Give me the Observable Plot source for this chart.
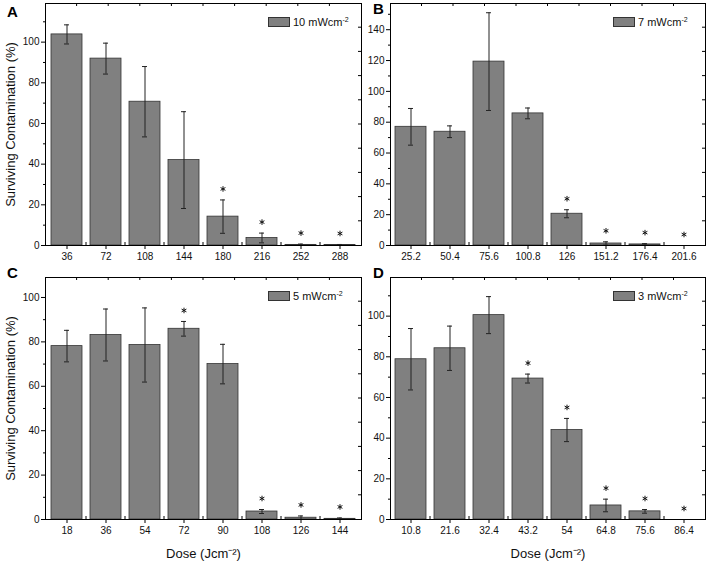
<!DOCTYPE html>
<html><head><meta charset="utf-8">
<script src="https://cdn.jsdelivr.net/npm/d3@7"></script>
<script src="https://cdn.jsdelivr.net/npm/@observablehq/plot@0.6"></script>
<style>
body{margin:0;background:#fff;}
#wrap{position:relative;width:709px;height:562px;font-family:"Liberation Sans",Arial,sans-serif;overflow:hidden;}
.panel{position:absolute;}
.lbl{position:absolute;font-weight:bold;font-size:15px;line-height:1;color:#000;}
.leg{position:absolute;font-size:11px;line-height:1;display:flex;align-items:center;white-space:nowrap;color:#111;}
.sw{display:inline-block;width:20px;height:8px;background:#808080;border:1px solid #333;margin-right:3px;}
.leg sup{font-size:7px;position:relative;top:-1px;vertical-align:top;}
</style></head><body><div id="wrap"></div>
<script>
// Panel A: 10 mW/cm2
const dosesA = [36, 72, 108, 144, 180, 216, 252, 288];
const valuesA = [103.8, 91.9, 70.7, 42.0, 14.2, 3.7, 0.3, 0.2];
const errorsA = [4.7, 7.6, 17.3, 23.8, 8.2, 2.4, 0.4, 0.3];
const sigA = [0, 0, 0, 0, 1, 1, 1, 1];
// Panel B: 7 mW/cm2
const dosesB = [25.2, 50.4, 75.6, 100.8, 126, 151.2, 176.4, 201.6];
const valuesB = [77.0, 73.8, 119.3, 85.7, 20.6, 1.3, 0.7, 0];
const errorsB = [11.9, 3.8, 31.7, 3.5, 2.6, 1.1, 0.5, 0];
const sigB = [0, 0, 0, 0, 1, 1, 1, 1];
// Panel C: 5 mW/cm2
const dosesC = [18, 36, 54, 72, 90, 108, 126, 144];
const valuesC = [78.1, 83.1, 78.6, 85.9, 70.0, 3.6, 0.8, 0.3];
const errorsC = [7.1, 11.7, 16.7, 3.3, 8.9, 0.9, 0.8, 0.4];
const sigC = [0, 0, 0, 1, 0, 1, 1, 1];
// Panel D: 3 mW/cm2
const dosesD = [10.8, 21.6, 32.4, 43.2, 54, 64.8, 75.6, 86.4];
const valuesD = [78.8, 84.2, 100.5, 69.3, 44.0, 6.9, 4.0, 0];
const errorsD = [15.1, 10.9, 9.1, 2.2, 5.7, 3.1, 0.9, 0];
const sigD = [0, 0, 0, 1, 1, 1, 1, 1];

const legendTexts = ["10", "7", "5", "3"];
const panelLetters = ["A", "B", "C", "D"];
const yTitle = "Surviving Contamination (%)";
const xTitle = "Dose (Jcm⁻²)";

const FONT = '"Liberation Sans", Arial, sans-serif';

function frameTicks(doses) {
  return (index, scales, values, dims) => {
    const {width, height, marginLeft: ml, marginRight: mr, marginTop: mt, marginBottom: mb} = dims;
    const x0 = ml, x1 = width - mr, y0 = mt, y1 = height - mb;
    const g = d3.create("svg:g").attr("stroke", "#000").attr("stroke-width", 1).attr("fill", "none");
    for (let k = 1; k < 10; k++) {
      const tx = x0 + (x1 - x0) * k / 10;
      g.append("line").attr("x1", tx).attr("x2", tx).attr("y1", y0).attr("y2", y0 + 3);
      const ty = y0 + (y1 - y0) * k / 10;
      g.append("line").attr("x1", x1).attr("x2", x1 - 3).attr("y1", ty).attr("y2", ty);
    }
    const xs = scales.x;
    const bw = typeof xs.bandwidth === "function" ? xs.bandwidth() : (xs.bandwidth || 0);
    const keys = doses.map(String);
    for (let i = 1; i < keys.length; i++) {
      const a = xs(keys[i - 1]), b = xs(keys[i]);
      if (!isFinite(a) || !isFinite(b)) continue;
      const xm = (a + b) / 2 + bw / 2;
      g.append("line").attr("x1", xm).attr("x2", xm).attr("y1", y1).attr("y2", y1 - 3);
    }
    return g.node();
  };
}

function panel(doses, vals, errs, sig, cfg) {
  const data = doses.map((d, i) => ({dose: String(d), val: vals[i], err: errs[i], sig: sig[i]}));
  const keys = doses.map(String);
  const capInset = 13;
  return Plot.plot({
    width: cfg.width, height: cfg.height,
    marginLeft: cfg.ml, marginRight: cfg.mr, marginTop: cfg.mt, marginBottom: cfg.mb,
    style: {fontFamily: FONT, fontSize: "10px", background: "transparent", color: "#111"},
    x: {type: "band", domain: keys, paddingInner: 0.2, paddingOuter: 0.12},
    y: {domain: [0, cfg.ymax]},
    marks: [
      Plot.barY(data, {x: "dose", y: "val", fill: "#808080", stroke: "#333", strokeWidth: 0.8}),
      Plot.ruleX(data, {x: "dose", y1: d => Math.max(0, d.val - d.err), y2: d => d.val + d.err, stroke: "#222", strokeWidth: 1}),
      Plot.tickY(data, {x: "dose", y: d => d.val + d.err, insetLeft: capInset, insetRight: capInset, stroke: "#222", strokeWidth: 1}),
      Plot.tickY(data, {x: "dose", y: d => Math.max(0, d.val - d.err), insetLeft: capInset, insetRight: capInset, stroke: "#222", strokeWidth: 1}),
      Plot.dot(data.filter(d => d.sig), {x: "dose", y: d => d.val + d.err, symbol: "asterisk", r: 2.6, dy: -11, stroke: "#111", strokeWidth: 1}),
      Plot.frame({stroke: "#000", strokeWidth: 1}),
      Plot.axisY({ticks: d3.range(0, cfg.ymax, 20), tickSize: 4, tickPadding: 2, stroke: "#000",
        label: cfg.yTitle ? yTitle : null, labelAnchor: "center", labelArrow: "none", labelOffset: 40, fontSize: 10}),
      Plot.axisY({ticks: d3.range(10, cfg.ymax, 20), tickSize: 2, tickFormat: () => "", label: null, stroke: "#000"}),
      Plot.axisX({tickSize: 4, tickPadding: 3, stroke: "#000",
        label: cfg.xTitle ? xTitle : null, labelAnchor: "center", labelArrow: "none", labelOffset: 38}),
      frameTicks(doses)
    ]
  });
}

const wrap = document.getElementById("wrap");
const cfgs = [
  {left: 0, top: 0, width: 362, height: 262, ml: 45, mr: 1, mt: 3, mb: 17, ymax: 119, yTitle: true, xTitle: false},
  {left: 350, top: 0, width: 359, height: 262, ml: 40, mr: 4, mt: 3, mb: 17, ymax: 157, yTitle: false, xTitle: false},
  {left: 0, top: 262, width: 362, height: 300, ml: 45, mr: 1, mt: 15, mb: 43, ymax: 109, yTitle: true, xTitle: true},
  {left: 350, top: 262, width: 359, height: 300, ml: 40, mr: 4, mt: 15, mb: 43, ymax: 119, yTitle: false, xTitle: true}
];
const sets = [
  [dosesA, valuesA, errorsA, sigA],
  [dosesB, valuesB, errorsB, sigB],
  [dosesC, valuesC, errorsC, sigC],
  [dosesD, valuesD, errorsD, sigD]
];
const letterPos = [[7, 4], [373, 1], [7, 264.5], [373, 264.5]];

cfgs.forEach((cfg, i) => {
  const svg = panel(...sets[i], cfg);
  svg.classList.add("panel");
  svg.style.left = cfg.left + "px";
  svg.style.top = cfg.top + "px";
  wrap.appendChild(svg);
  const lab = document.createElement("div");
  lab.className = "lbl";
  lab.textContent = panelLetters[i];
  lab.style.left = letterPos[i][0] + "px";
  lab.style.top = letterPos[i][1] + "px";
  wrap.appendChild(lab);
  const leg = document.createElement("div");
  leg.className = "leg";
  leg.innerHTML = '<span class="sw"></span><span>' + legendTexts[i] + ' mWcm<sup>-2</sup></span>';
  leg.style.left = (cfg.left + cfg.ml + 223) + "px";
  leg.style.top = (cfg.top + cfg.mt + 13.5) + "px";
  wrap.appendChild(leg);
});
wrap.querySelectorAll("svg g[aria-label='y-axis label'] text, svg g[aria-label='x-axis label'] text").forEach(t => t.setAttribute("font-size", "13"));
</script>
</body></html>
